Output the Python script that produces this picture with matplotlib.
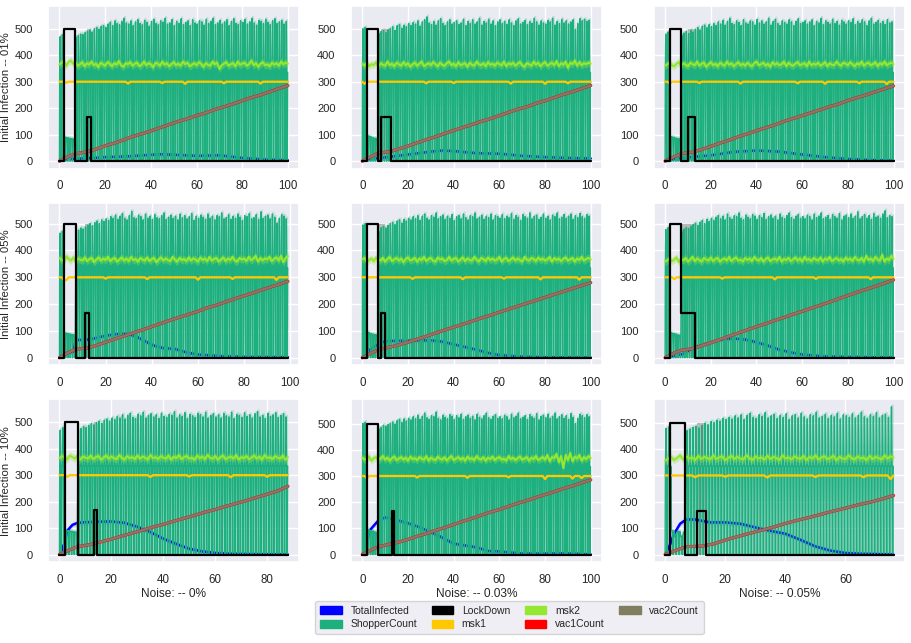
import numpy as np
import matplotlib
matplotlib.use("Agg")
import matplotlib.pyplot as plt
import seaborn as sns
from matplotlib.patches import Patch

sns.set_theme(style="darkgrid")
plt.rcParams['font.family'] = ['Liberation Sans', 'DejaVu Sans']

ROW_LABELS = ["Initial Infection -- 01%", "Initial Infection -- 05%", "Initial Infection -- 10%"]
COL_LABELS = ["Noise: -- 0%", "Noise: -- 0.03%", "Noise: -- 0.05%"]
SERIES = ["TotalInfected", "ShopperCount", "LockDown", "msk1", "msk2", "vac1Count", "vac2Count"]
COLORS = {"TotalInfected": "#0000ff", "ShopperCount": "#1db07e", "LockDown": "#000000",
          "msk1": "#ffc800", "msk2": "#94e831", "vac1Count": "#ff0000", "vac2Count": "#7f7f5f"}

# ---------------- ShopperCount: daily peak values ----------------
shop_r0c0 = [470, 478, 90, 88, 86, 84, 82,
             468, 475, 480, 478, 486, 490, 495, 488, 500, 505, 498, 510, 512, 505,
             518, 525, 512, 530, 520, 515, 528, 540, 522, 518, 530, 512, 526, 535, 520, 515, 532, 524, 510, 528,
             536, 520, 515, 530, 525, 540, 518, 522, 535, 512, 528, 520, 538, 516, 524, 530, 512, 534, 522, 518,
             530, 526, 514, 536, 520, 528, 540, 516, 522, 532, 518, 526, 534, 512, 528, 538, 520, 516, 530, 524,
             536, 518, 526, 540, 522, 514, 532, 528, 520, 536, 524, 516, 530, 538, 520, 526, 532, 518, 528, 535]
shop_r0c1 = [500, 505, 95, 92, 88, 86, 84,
             482, 490, 494, 486, 496, 500, 508, 494, 512, 516, 502, 514, 508, 520,
             512, 524, 518, 530, 510, 526, 534, 545, 522, 516, 528, 514, 530, 538, 520, 512, 526, 534, 518, 524,
             530, 516, 522, 536, 512, 528, 520, 534, 518, 526, 540, 514, 528, 522, 536, 518, 530, 512, 526, 534,
             520, 528, 516, 534, 522, 512, 530, 538, 518, 524, 532, 516, 528, 520, 540, 526, 514, 530, 522, 518,
             532, 526, 540, 514, 528, 520, 536, 522, 530, 518, 526, 534, 498, 520, 538, 530, 536, 528, 532, 530]
shop_r0c2 = [480, 488, 92, 90, 87, 85, 83,
             476, 484, 490, 482, 494, 488, 498, 505, 496, 510, 514, 504, 516, 508,
             520, 512, 526, 518, 532, 514, 528, 540, 520, 516, 530, 524, 512, 534, 522, 518, 530, 526, 514, 536,
             522, 530, 518, 526, 540, 514, 528, 536, 520, 512, 530, 524, 518, 534, 526, 512, 528, 538, 520, 524,
             530, 518, 526, 534, 512, 528, 522, 540, 516, 530, 524, 518, 536, 520, 528, 514, 532, 526, 518, 530,
             524, 538, 516, 528, 520, 534, 526, 512, 530, 540, 518, 524, 532, 520, 528, 516, 534, 522, 526, 520]
shop_r1c0 = [465, 472, 92, 90, 88, 86, 84,
             470, 476, 484, 480, 488, 494, 500, 492, 504, 510, 500, 514, 508, 518,
             512, 526, 520, 532, 516, 528, 538, 520, 514, 530, 546, 522, 518, 532, 526, 514, 536, 520, 528, 516,
             534, 522, 518, 530, 540, 516, 524, 532, 520, 528, 514, 536, 522, 530, 518, 526, 538, 512, 528, 520,
             532, 524, 516, 536, 520, 528, 514, 530, 526, 540, 518, 522, 534, 516, 528, 520, 536, 524, 512, 530,
             526, 538, 518, 522, 534, 516, 544, 520, 528, 532, 518, 536, 524, 502, 520, 534, 528, 518, 532]
shop_r1c1 = [495, 500, 95, 90, 88, 86, 84,
             470, 485, 490, 484, 494, 500, 505, 496, 510, 514, 502, 516, 510, 520,
             514, 526, 518, 530, 512, 528, 536, 520, 514, 530, 524, 540, 518, 526, 532, 516, 528, 520, 534, 512,
             526, 530, 518, 536, 522, 514, 530, 526, 540, 518, 524, 532, 516, 528, 522, 536, 514, 530, 526, 520,
             534, 518, 528, 522, 538, 516, 530, 524, 512, 534, 526, 520, 540, 518, 528, 532, 516, 524, 536, 520,
             528, 514, 532, 526, 540, 518, 524, 534, 520, 528, 536, 516, 530, 522, 538, 526, 520, 534, 528, 532]
shop_r1c2 = [478, 485, 93, 90, 88, 85, 83,
             472, 480, 486, 482, 490, 496, 502, 494, 506, 512, 500, 516, 508, 520,
             512, 524, 530, 518, 528, 514, 536, 522, 516, 530, 526, 540, 520, 514, 532, 524, 518, 534, 528, 516,
             530, 522, 538, 516, 526, 532, 520, 528, 514, 536, 524, 518, 530, 540, 522, 516, 528, 534, 520, 526,
             518, 532, 526, 514, 536, 522, 528, 540, 518, 524, 530, 516, 534, 526, 520, 538, 514, 528, 532, 522,
             536, 520, 528, 544, 518, 526, 534, 520, 530, 516, 538, 524, 528, 520, 536, 548, 522, 530, 526, 528]
shop_r2c0 = [470, 480, 92, 90, 88, 86, 84,
             468, 476, 484, 480, 488, 494, 490, 498, 504, 496, 508, 512, 504, 516,
             510, 522, 516, 528, 512, 526, 534, 518, 514, 530, 524, 538, 516, 526, 532, 520, 528, 514, 534, 522,
             518, 530, 526, 540, 516, 528, 522, 536, 514, 530, 524, 518, 534, 528, 520, 538, 516, 526, 532, 520,
             528, 516, 534, 524, 520, 538, 514, 530, 526, 518, 536, 522, 528, 516, 532, 540, 520, 526, 514, 534,
             522, 528, 536, 518, 526, 532, 520, 528]
shop_r2c1 = [500, 505, 96, 92, 90, 86, 84,
             480, 486, 494, 490, 496, 500, 506, 498, 512, 516, 504, 518, 510, 520,
             514, 526, 518, 532, 516, 528, 540, 522, 516, 530, 526, 544, 520, 514, 532, 524, 518, 534, 528, 516,
             530, 522, 536, 516, 526, 532, 520, 528, 514, 536, 524, 518, 530, 540, 522, 516, 528, 534, 520, 526,
             518, 532, 526, 514, 536, 522, 528, 540, 518, 524, 530, 516, 534, 526, 520, 538, 514, 528, 532, 522,
             536, 520, 528, 540, 518, 526, 534, 520, 530, 516, 538, 524, 500, 520, 536, 530, 522, 534, 526, 565]
shop_r2c2 = [478, 484, 90, 75, 88, 70, 85,
             470, 476, 482, 486, 480, 490, 498, 492, 504, 500, 510, 506, 516, 512,
             520, 514, 526, 518, 530, 512, 528, 536, 520, 516, 530, 524, 538, 518, 526, 532, 516, 528, 520, 534,
             512, 526, 530, 518, 536, 522, 514, 530, 526, 540, 518, 524, 532, 516, 528, 522, 536, 514, 530, 526,
             520, 534, 518, 528, 540, 522, 516, 530, 524, 538, 518, 528, 532, 520, 560, 490]
SHOP_MID = [335, 335, 335, 335, 335, 335, 335, 335, 335]   # level of the dense green body

# ---------------- msk2: daily values ----------------
msk2_r0c0 = [365, 372, 378, 360, 375, 380, 368, 372, 360, 366, 374, 358, 370, 364, 376, 362, 368, 355, 372, 366,
             360, 374, 368, 358, 370, 364, 378, 362, 356, 370, 366, 374, 360, 368, 372, 358, 364, 376, 362, 370,
             366, 354, 372, 368, 360, 376, 364, 370, 358, 366, 374, 362, 368, 360, 376, 366, 372, 358, 364, 370,
             362, 374, 368, 356, 370, 364, 360, 376, 366, 372, 348, 362, 368, 374, 360, 366, 370, 358, 376, 364,
             368, 372, 360, 366, 380, 362, 370, 356, 368, 374, 362, 366, 358, 372, 364, 370, 360, 376, 366, 372, 368]
msk2_r0c1 = [368, 360, 372, 358, 366, 362, 374, 356, 370, 364, 360, 376, 362, 368, 358, 372, 366, 360, 374, 362,
             370, 356, 366, 372, 360, 368, 376, 358, 364, 370, 362, 374, 366, 358, 372, 364, 360, 370, 376, 362,
             368, 358, 374, 362, 366, 370, 356, 372, 364, 360, 376, 366, 362, 370, 358, 374, 364, 368, 360, 372,
             366, 362, 376, 358, 370, 364, 372, 360, 368, 374, 362, 356, 370, 366, 360, 376, 364, 372, 358, 368,
             374, 360, 366, 372, 362, 378, 358, 370, 364, 376, 352, 372, 366, 380, 360, 374, 362, 370, 366, 372, 368]
msk2_r0c2 = [360, 366, 372, 362, 358, 368, 374, 360, 370, 364, 358, 372, 366, 362, 376, 360, 368, 372, 356, 366,
             374, 362, 368, 358, 372, 366, 360, 376, 364, 370, 358, 366, 374, 362, 368, 360, 372, 364, 358, 370,
             376, 362, 366, 372, 360, 368, 356, 374, 364, 370, 362, 366, 376, 358, 372, 364, 360, 368, 374, 362,
             366, 370, 358, 376, 362, 368, 364, 372, 360, 366, 374, 358, 370, 364, 362, 376, 366, 360, 372, 368,
             362, 374, 366, 358, 370, 364, 376, 360, 368, 372, 362, 366, 374, 358, 370, 364, 376, 362, 368, 372, 366]
msk2_r1c0 = [372, 364, 360, 378, 368, 362, 374, 358, 370, 366, 362, 374, 360, 368, 372, 356, 366, 374, 362, 370,
             364, 376, 360, 368, 372, 358, 366, 374, 362, 370, 360, 376, 364, 368, 358, 372, 366, 362, 374, 360,
             368, 372, 356, 366, 374, 362, 370, 364, 360, 376, 366, 358, 372, 364, 368, 360, 374, 362, 370, 366,
             358, 374, 364, 370, 360, 376, 362, 368, 372, 358, 366, 374, 360, 370, 364, 376, 362, 358, 372, 366,
             370, 360, 376, 364, 368, 380, 358, 372, 362, 370, 366, 376, 360, 368, 374, 362, 380, 356, 372, 378]
msk2_r1c1 = [366, 372, 358, 364, 370, 360, 374, 366, 362, 372, 358, 368, 376, 360, 366, 372, 362, 370, 356, 368,
             374, 362, 366, 372, 358, 370, 364, 376, 360, 368, 372, 362, 358, 374, 366, 370, 360, 364, 376, 362,
             368, 372, 358, 366, 374, 360, 370, 364, 362, 376, 366, 358, 372, 368, 360, 374, 364, 370, 362, 366,
             376, 358, 368, 372, 360, 366, 374, 362, 370, 364, 358, 376, 366, 362, 372, 368, 360, 374, 364, 370,
             362, 366, 376, 358, 372, 364, 370, 360, 368, 374, 362, 366, 372, 358, 370, 364, 376, 362, 368, 372, 366]
msk2_r1c2 = [358, 364, 370, 360, 366, 374, 356, 368, 362, 372, 358, 366, 376, 360, 370, 364, 358, 372, 366, 362,
             374, 360, 368, 372, 358, 366, 370, 362, 376, 360, 368, 374, 362, 366, 358, 372, 364, 370, 360, 376,
             366, 362, 372, 358, 368, 374, 360, 366, 370, 362, 376, 358, 368, 364, 372, 360, 366, 374, 362, 370,
             358, 376, 364, 368, 360, 372, 366, 362, 374, 358, 370, 364, 376, 360, 366, 372, 362, 368, 358, 374,
             364, 370, 360, 376, 366, 362, 372, 358, 380, 364, 370, 360, 376, 366, 362, 384, 358, 370, 364, 380, 368]
msk2_r2c0 = [364, 372, 366, 360, 374, 368, 362, 376, 358, 370, 366, 362, 374, 360, 368, 372, 358, 366, 374, 362,
             370, 364, 360, 376, 366, 358, 372, 364, 368, 360, 374, 362, 370, 366, 358, 376, 364, 368, 360, 372,
             366, 362, 374, 358, 370, 364, 376, 360, 368, 372, 362, 366, 358, 374, 364, 370, 360, 376, 366, 362,
             372, 358, 368, 374, 360, 366, 370, 362, 376, 358, 368, 364, 372, 360, 366, 374, 362, 370, 358, 376,
             364, 368, 360, 372, 366, 362, 374, 358, 368]
msk2_r2c1 = [370, 362, 366, 374, 358, 368, 372, 360, 366, 376, 362, 370, 358, 368, 374, 360, 366, 372, 362, 370,
             358, 374, 364, 368, 360, 372, 366, 362, 376, 358, 370, 364, 360, 374, 366, 362, 372, 358, 368, 376,
             360, 366, 372, 362, 370, 358, 374, 364, 368, 360, 376, 366, 362, 372, 358, 370, 364, 374, 360, 368,
             372, 362, 366, 358, 376, 364, 370, 360, 368, 374, 362, 366, 372, 358, 370, 364, 376, 360, 366, 372,
             362, 380, 356, 372, 368, 384, 352, 376, 330, 380, 360, 388, 356, 374, 366, 380, 358, 372, 364, 376, 368]
msk2_r2c2 = [356, 362, 370, 358, 366, 376, 360, 372, 364, 368, 358, 374, 362, 370, 366, 360, 376, 362, 368, 372,
             358, 366, 374, 362, 370, 364, 360, 376, 366, 358, 372, 364, 368, 360, 374, 362, 370, 366, 358, 376,
             364, 368, 360, 372, 366, 362, 374, 358, 370, 364, 376, 360, 368, 372, 362, 366, 374, 358, 370, 364,
             362, 376, 366, 360, 372, 364, 368, 358, 374, 362, 370, 366, 360, 376, 364, 372, 368]

# ---------------- msk1: level 300 with small dips (day, value) ----------------
MSK1_LEVEL = 300
msk1_dips_r0c0 = [(3, 296), (30, 293), (45, 295), (55, 292), (72, 294), (88, 293)]
msk1_dips_r0c1 = [(1, 292), (28, 294), (40, 295), (65, 293), (80, 292), (90, 294)]
msk1_dips_r0c2 = [(2, 294), (15, 295), (33, 293), (58, 294), (70, 292), (85, 294), (97, 291)]
msk1_dips_r1c0 = [(2, 288), (3, 290), (20, 295), (38, 293), (60, 291), (75, 294), (94, 290)]
msk1_dips_r1c1 = [(22, 294), (44, 293), (62, 295), (78, 292), (95, 291)]
msk1_dips_r1c2 = [(4, 293), (25, 295), (48, 292), (66, 294), (90, 293)]
msk1_dips_r2c0 = [(3, 294), (35, 293), (50, 295), (66, 292), (80, 294)]
msk1_dips_r2c1 = [(2, 292), (24, 294), (46, 293), (64, 295), (80, 288), (92, 290), (96, 292)]
msk1_dips_r2c2 = [(10, 293), (20, 295), (34, 292), (50, 294), (66, 293), (75, 286)]

# ---------------- TotalInfected (day, value) ----------------
ti_t_r0c0 = [0, 2, 5, 10, 15, 20, 30, 40, 45, 50, 60, 70, 80, 90, 100]
ti_v_r0c0 = [0, 5, 8, 10, 12, 15, 18, 24, 26, 24, 20, 22, 12, 6, 3]
ti_t_r0c1 = [0, 2, 5, 10, 20, 30, 35, 40, 50, 60, 70, 80, 90, 100]
ti_v_r0c1 = [0, 6, 10, 14, 25, 36, 40, 38, 30, 28, 20, 15, 12, 10]
ti_t_r0c2 = [0, 2, 5, 10, 20, 30, 40, 50, 60, 70, 80, 90, 100]
ti_v_r0c2 = [0, 5, 10, 14, 22, 35, 40, 36, 25, 15, 8, 4, 2]
ti_t_r1c0 = [0, 2, 3, 6, 7, 13, 20, 25, 29, 33, 37, 41, 45, 50, 55, 60, 70, 80, 99]
ti_v_r1c0 = [0, 12, 18, 22, 66, 68, 82, 88, 90, 80, 62, 45, 36, 33, 20, 12, 6, 3, 2]
ti_t_r1c1 = [0, 2, 4, 7, 10, 20, 30, 35, 40, 45, 50, 55, 60, 70, 80, 100]
ti_v_r1c1 = [0, 20, 35, 50, 62, 64, 65, 60, 50, 40, 30, 18, 10, 4, 2, 1]
ti_t_r1c2 = [0, 2, 5, 8, 13, 20, 25, 30, 35, 40, 45, 50, 55, 60, 70, 80, 100]
ti_v_r1c2 = [0, 5, 8, 15, 40, 58, 68, 72, 68, 58, 45, 30, 20, 12, 5, 3, 1]
ti_t_r2c0 = [0, 1, 2, 3, 5, 7, 10, 15, 20, 25, 30, 35, 40, 45, 50, 55, 60, 65, 70, 80, 88]
ti_v_r2c0 = [0, 20, 45, 90, 112, 120, 122, 124, 125, 120, 105, 85, 60, 40, 22, 12, 6, 3, 2, 1, 0]
ti_t_r2c1 = [0, 2, 3, 5, 7, 10, 15, 20, 25, 30, 35, 40, 45, 50, 55, 60, 70, 80, 88, 100]
ti_v_r2c1 = [0, 40, 90, 110, 130, 142, 132, 120, 105, 86, 65, 42, 35, 28, 14, 12, 4, 4, 5, 1]
ti_t_r2c2 = [0, 1.5, 3, 5, 7, 10, 15, 20, 25, 30, 35, 40, 45, 50, 55, 60, 65, 70, 76]
ti_v_r2c2 = [0, 34, 79, 117, 133, 133, 122, 122, 117, 103, 90, 79, 56, 31, 15, 6, 3, 2, 0]

# ---------------- vaccinations (knot values at days 0,4,7,12,16,20,... end) ----------------
vac_r0c0 = [0, 18, 28, 35, 45, 58, 68, 80, 93, 103, 114, 126, 138, 150, 160, 172, 182, 195, 205, 216, 228, 240, 250, 262, 274, 285]
vac_r0c1 = [0, 18, 30, 36, 46, 57, 69, 81, 92, 104, 116, 127, 138, 150, 160, 172, 184, 196, 205, 218, 228, 240, 252, 262, 274, 286]
vac_r0c2 = [0, 17, 28, 34, 44, 56, 68, 79, 92, 103, 115, 126, 137, 150, 161, 172, 183, 194, 206, 216, 229, 240, 250, 262, 273, 284]
vac_r1c0 = [0, 20, 32, 36, 46, 58, 70, 81, 93, 104, 116, 128, 140, 151, 162, 173, 186, 196, 208, 220, 231, 242, 254, 265, 276, 285]
vac_r1c1 = [0, 18, 30, 40, 48, 58, 69, 80, 92, 103, 114, 125, 136, 148, 158, 170, 181, 192, 203, 214, 225, 236, 247, 258, 269, 280]
vac_r1c2 = [0, 18, 28, 34, 45, 56, 68, 80, 92, 104, 116, 127, 139, 150, 162, 173, 185, 196, 208, 220, 232, 244, 255, 266, 278, 290]
vac_r2c0 = [0, 18, 30, 38, 48, 58, 70, 81, 92, 104, 114, 126, 137, 148, 160, 170, 182, 193, 204, 216, 228, 240, 258]
vac_r2c1 = [0, 18, 30, 40, 48, 58, 70, 80, 92, 103, 115, 127, 138, 150, 162, 172, 184, 196, 206, 218, 229, 240, 252, 262, 274, 285]
vac_r2c2 = [0, 18, 30, 32, 40, 55, 68, 80, 92, 104, 118, 130, 141, 153, 165, 176, 188, 198, 210, 224]

# ---------------- LockDown (step changes) and its grey band (start, end, top) ----------------
lock_t_r0c0, lock_v_r0c0, lock_band_r0c0 = [0, 2, 7, 12, 14, 100], [0, 500, 0, 167, 0, 0], (12, 14, 500)
lock_t_r0c1, lock_v_r0c1, lock_band_r0c1 = [0, 2, 7, 8, 12.5, 100], [0, 500, 0, 167, 0, 0], (8, 12.5, 500)
lock_t_r0c2, lock_v_r0c2, lock_band_r0c2 = [0, 2, 7, 10, 13, 100], [0, 500, 0, 167, 0, 0], (10, 13, 500)
lock_t_r1c0, lock_v_r1c0, lock_band_r1c0 = [0, 2, 7, 11, 13, 99], [0, 500, 0, 167, 0, 0], (11, 13, 500)
lock_t_r1c1, lock_v_r1c1, lock_band_r1c1 = [0, 2, 7, 8, 10, 100], [0, 500, 0, 167, 0, 0], (7, 10, 500)
lock_t_r1c2, lock_v_r1c2, lock_band_r1c2 = [0, 2, 7, 13, 100], [0, 500, 167, 0, 0], (7, 13, 500)
lock_t_r2c0, lock_v_r2c0, lock_band_r2c0 = [0, 2, 7, 13.5, 14.5, 88], [0, 500, 0, 167, 0, 0], (13.5, 14.5, 500)
lock_t_r2c1, lock_v_r2c1, lock_band_r2c1 = [0, 2, 7, 13, 14, 100], [0, 500, 0, 167, 0, 0], (13, 14, 500)
lock_t_r2c2, lock_v_r2c2, lock_band_r2c2 = [0, 1.6, 6.7, 10.7, 13.7, 76], [0, 500, 0, 167, 0, 0], (10.7, 13.7, 500)

YLIMS = [(-28, 586), (-28, 586), (-28, 586),
         (-28, 578), (-28, 578), (-28, 578),
         (-28, 586), (-28, 592), (-28, 588)]

PANELS = [
    (shop_r0c0, msk2_r0c0, msk1_dips_r0c0, ti_t_r0c0, ti_v_r0c0, vac_r0c0, lock_t_r0c0, lock_v_r0c0, lock_band_r0c0),
    (shop_r0c1, msk2_r0c1, msk1_dips_r0c1, ti_t_r0c1, ti_v_r0c1, vac_r0c1, lock_t_r0c1, lock_v_r0c1, lock_band_r0c1),
    (shop_r0c2, msk2_r0c2, msk1_dips_r0c2, ti_t_r0c2, ti_v_r0c2, vac_r0c2, lock_t_r0c2, lock_v_r0c2, lock_band_r0c2),
    (shop_r1c0, msk2_r1c0, msk1_dips_r1c0, ti_t_r1c0, ti_v_r1c0, vac_r1c0, lock_t_r1c0, lock_v_r1c0, lock_band_r1c0),
    (shop_r1c1, msk2_r1c1, msk1_dips_r1c1, ti_t_r1c1, ti_v_r1c1, vac_r1c1, lock_t_r1c1, lock_v_r1c1, lock_band_r1c1),
    (shop_r1c2, msk2_r1c2, msk1_dips_r1c2, ti_t_r1c2, ti_v_r1c2, vac_r1c2, lock_t_r1c2, lock_v_r1c2, lock_band_r1c2),
    (shop_r2c0, msk2_r2c0, msk1_dips_r2c0, ti_t_r2c0, ti_v_r2c0, vac_r2c0, lock_t_r2c0, lock_v_r2c0, lock_band_r2c0),
    (shop_r2c1, msk2_r2c1, msk1_dips_r2c1, ti_t_r2c1, ti_v_r2c1, vac_r2c1, lock_t_r2c1, lock_v_r2c1, lock_band_r2c1),
    (shop_r2c2, msk2_r2c2, msk1_dips_r2c2, ti_t_r2c2, ti_v_r2c2, vac_r2c2, lock_t_r2c2, lock_v_r2c2, lock_band_r2c2),
]

# within-day sampling of the ShopperCount trace: (fraction of day, which level)
DAY_PROFILE = [(0.1, "body"), (0.3, "peak"), (0.5, "body"), (0.7, "zero"), (0.9, "body")]


def draw_panel(ax, shop, msk2, dips, ti_t, ti_v, vac, lock_t, lock_v, band, mid, ylim):
    n = len(shop)
    end = n - 1
    days = np.arange(n)

    # ShopperCount trace
    ts, vs, band_hi = [0.0], [0.0], [shop[0] + 10]
    for d in range(n):
        body = min(mid, shop[d])
        for off, kind in DAY_PROFILE:
            t = d + off
            if t > end:
                continue
            ts.append(t)
            vs.append({"body": body, "peak": shop[d], "zero": 0.0}[kind])
            band_hi.append(shop[d] + 10)
    ts = np.array(ts)
    vs = np.array(vs)
    ax.fill_between(ts, 0, np.array(band_hi), color=COLORS["ShopperCount"], alpha=0.22, lw=0, zorder=2.8)
    ax.fill_between(ts, 0, vs, color=COLORS["ShopperCount"], alpha=0.25, lw=0, zorder=2.8)

    # LockDown uncertainty band
    ax.fill_between([band[0], band[1]], 0, band[2], color="#b3b3b3", alpha=0.9, lw=0, zorder=2.9)

    # TotalInfected (under the shopper strokes, above the shopper band)
    ti_t = np.asarray(ti_t, float)
    ti_v = np.asarray(ti_v, float)
    ax.fill_between(ti_t, np.clip(ti_v - 9, 0, None), ti_v + 9,
                    color="#5a78ff", alpha=0.3, lw=0, zorder=3.0)
    ax.plot(ti_t, ti_v, color=COLORS["TotalInfected"], lw=1.8, zorder=3.0)

    ax.plot(ts, vs, color=COLORS["ShopperCount"], lw=1.0, zorder=3.1)

    # LockDown
    ax.plot(lock_t, lock_v, drawstyle="steps-post", color=COLORS["LockDown"], lw=1.6, zorder=6)

    # msk1
    m1 = np.full(n, float(MSK1_LEVEL))
    for d, v in dips:
        if d < n:
            m1[d] = v
    ax.fill_between(days, m1 - 3, m1 + 3, color=COLORS["msk1"], alpha=0.3, lw=0, zorder=4)
    ax.plot(days, m1, color=COLORS["msk1"], lw=1.6, zorder=4)

    # msk2
    m2 = np.asarray(msk2, float)
    d2 = np.arange(len(m2))
    ax.fill_between(d2, m2 - 14, m2 + 14, color=COLORS["msk2"], alpha=0.35, lw=0, zorder=4)
    ax.plot(d2, m2, color=COLORS["msk2"], lw=1.5, zorder=4)

    # vaccinations
    vt = [0, 4, 7, 12] + list(range(16, end + 1, 4))
    if vt[-1] != end:
        vt.append(end)
    vt = vt[:len(vac)]
    ax.plot(vt, vac, color=COLORS["vac1Count"], lw=2.3, zorder=5)
    ax.plot(vt, vac, color="#85776a", lw=1.8, zorder=5)

    ax.set_xlim(-0.05 * end, 1.05 * end)
    ax.set_ylim(*ylim)
    ax.set_yticks([0, 100, 200, 300, 400, 500])


fig = plt.figure(figsize=(9.11, 6.43), dpi=100)
axes = fig.subplots(3, 3)
fig.subplots_adjust(left=0.0527, right=0.9934, top=0.9907, bottom=0.126, wspace=0.205, hspace=0.21)

for i, p in enumerate(PANELS):
    r, c = divmod(i, 3)
    ax = axes[r, c]
    draw_panel(ax, *p, SHOP_MID[i], YLIMS[i])
    ax.tick_params(axis="x", labelsize=8.3, pad=2.5, colors="#262626")
    ax.tick_params(axis="y", labelsize=8.0, pad=5.0, colors="#262626")
    if c == 0:
        ax.set_ylabel(ROW_LABELS[r], fontsize=8.2, color="#262626")
        ax.yaxis.set_label_coords(-0.146, 0.5)
    if r == 2:
        ax.set_xlabel(COL_LABELS[c], fontsize=8.6, labelpad=1.5, color="#262626")

handles = [Patch(facecolor=COLORS[s], edgecolor=COLORS[s], label=s) for s in SERIES]
fig.legend(handles=handles, ncol=4, loc="center", bbox_to_anchor=(509.5 / 911, 1 - 617.5 / 643),
           fontsize=7.5, frameon=True, handlelength=2.1, handleheight=0.8, columnspacing=1.4,
           handletextpad=0.8, labelspacing=0.35, borderpad=0.45)

fig.savefig("out.png", dpi=100)
